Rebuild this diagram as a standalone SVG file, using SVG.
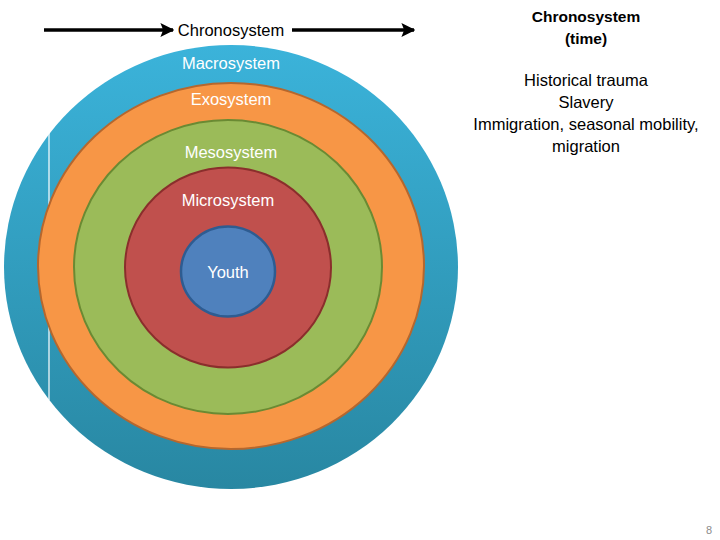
<svg xmlns="http://www.w3.org/2000/svg" width="720" height="540" viewBox="0 0 720 540">
<style>
.lbl{font-family:"Liberation Sans",Arial,sans-serif;font-size:16.5px;fill:#ffffff;text-anchor:middle}
.blk{font-family:"Liberation Sans",Arial,sans-serif;font-size:16.5px;fill:#000000;text-anchor:middle}
.bold{font-weight:bold;font-size:15.5px}
.arrow{stroke:#000;stroke-width:3.5;fill:none}
</style>
<defs>
<linearGradient id="gBlue" x1="0" y1="0" x2="0" y2="1">
<stop offset="0" stop-color="#3BB3DA"/>
<stop offset="1" stop-color="#2887A2"/>
</linearGradient>
<marker id="ah" viewBox="0 0 10 10" refX="9" refY="5" markerWidth="4" markerHeight="4.5" orient="auto" markerUnits="strokeWidth">
<path d="M0,0 L10,5 L0,10 L2,5 z" fill="#000"/>
</marker>
</defs>
<rect x="0" y="0" width="720" height="540" fill="#ffffff"/>
<g id="macrosystem">
<ellipse cx="231" cy="267" rx="227" ry="222" fill="url(#gBlue)"/>
<line x1="49" y1="133" x2="49" y2="400" stroke="#ffffff" stroke-width="1.2"/>
<text class="lbl" x="231" y="69">Macrosystem</text>
</g>
<g id="exosystem">
<ellipse cx="231" cy="266" rx="193" ry="183" fill="#F79646" stroke="#B5672E" stroke-width="2"/>
<text class="lbl" x="231" y="105">Exosystem</text>
</g>
<g id="mesosystem">
<ellipse cx="228" cy="267" rx="154" ry="147" fill="#9BBB59" stroke="#6A8A33" stroke-width="2"/>
<text class="lbl" x="231" y="158">Mesosystem</text>
</g>
<g id="microsystem">
<ellipse cx="228" cy="267.5" rx="103" ry="100" fill="#C0504D" stroke="#8A2E2C" stroke-width="2"/>
<text class="lbl" x="228" y="206">Microsystem</text>
</g>
<g id="youth">
<ellipse cx="228" cy="271.5" rx="47" ry="45" fill="#4F81BD" stroke="#2E5C91" stroke-width="2.5"/>
<text class="lbl" x="228" y="278">Youth</text>
</g>
<g id="connectors">
<line class="arrow" x1="44" y1="30" x2="173" y2="30" marker-end="url(#ah)"/>
<line class="arrow" x1="292" y1="30" x2="414" y2="30" marker-end="url(#ah)"/>
</g>
<g id="chrono-label">
<text class="blk" x="231" y="36">Chronosystem</text>
</g>
<g id="chrono-text">
<text class="blk bold" x="586" y="22">Chronosystem</text>
<text class="blk bold" x="586" y="44">(time)</text>
<text class="blk" x="586" y="86">Historical trauma</text>
<text class="blk" x="586" y="108">Slavery</text>
<text class="blk" x="586" y="130">Immigration, seasonal mobility,</text>
<text class="blk" x="586" y="152">migration</text>
</g>
<text x="712" y="534" font-family="Liberation Sans,Arial,sans-serif" font-size="11" fill="#8c8c8c" text-anchor="end">8</text>
</svg>
